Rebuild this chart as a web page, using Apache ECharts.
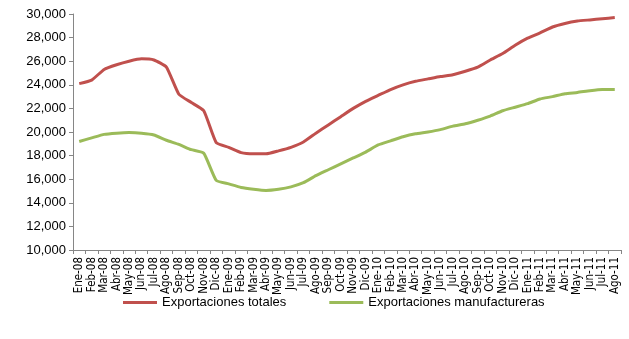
<!DOCTYPE html>
<html>
<head>
<meta charset="utf-8">
<script src="https://cdn.jsdelivr.net/npm/echarts@6/dist/echarts.min.js"></script>
<style>
    html, body { margin: 0; padding: 0; background: #fff; }
    #chart { width: 629px; height: 339px; }
</style>
</head>
<body>
<div id="chart"></div>
<script>
var months = ['Ene-08', 'Feb-08', 'Mar-08', 'Abr-08', 'May-08', 'Jun-08', 'Jul-08', 'Ago-08', 'Sep-08', 'Oct-08', 'Nov-08', 'Dic-08',
    'Ene-09', 'Feb-09', 'Mar-09', 'Abr-09', 'May-09', 'Jun-09', 'Jul-09', 'Ago-09', 'Sep-09', 'Oct-09', 'Nov-09', 'Dic-09',
    'Ene-10', 'Feb-10', 'Mar-10', 'Abr-10', 'May-10', 'Jun-10', 'Jul-10', 'Ago-10', 'Sep-10', 'Oct-10', 'Nov-10', 'Dic-10',
    'Ene-11', 'Feb-11', 'Mar-11', 'Abr-11', 'May-11', 'Jun-11', 'Jul-11', 'Ago-11'];
var totales = [24100, 24400, 25300, 25700, 26000, 26200, 26100, 25500, 23200, 22500, 21800, 19100,
    18700, 18250, 18150, 18150, 18400, 18700, 19150, 19900, 20600, 21300, 22000, 22600,
    23100, 23600, 24000, 24300, 24500, 24700, 24850, 25150, 25500, 26100, 26650, 27350,
    27950, 28400, 28900, 29200, 29400, 29500, 29600, 29700];
var manufactureras = [19200, 19500, 19800, 19900, 19950, 19900, 19750, 19300, 18950, 18500, 18200, 15900,
    15600, 15300, 15150, 15050, 15150, 15350, 15700, 16300, 16800, 17300, 17800, 18300,
    18900, 19250, 19600, 19850, 20000, 20200, 20500, 20700, 21000, 21350, 21800, 22100,
    22400, 22800, 23000, 23250, 23350, 23500, 23600, 23600];

var chart = echarts.init(document.getElementById('chart'));
var font = '"DejaVu Sans Condensed", "Liberation Sans", sans-serif';
var option = {
    animation: false,
    grid: { left: 73, right: 8, top: 14, bottom: 89 },
    legend: {
        bottom: 25,
        left: 118,
        icon: 'rect',
        itemWidth: 34,
        itemHeight: 3,
        itemGap: 43,
        textStyle: { fontFamily: '"Liberation Sans", sans-serif', fontSize: 13, color: '#000' },
        data: ['Exportaciones totales', 'Exportaciones manufactureras']
    },
    xAxis: {
        type: 'category',
        data: months,
        boundaryGap: true,
        axisLine: { lineStyle: { color: '#868686', width: 1 } },
        axisTick: { show: true, length: 4, interval: 0, lineStyle: { color: '#868686' } },
        axisLabel: { rotate: 90, interval: 0, fontFamily: font, fontSize: 11.5, color: '#000', margin: 7 }
    },
    yAxis: {
        type: 'value',
        min: 10000,
        max: 30000,
        interval: 2000,
        splitLine: { show: false },
        axisLine: { show: true, lineStyle: { color: '#868686', width: 1 } },
        axisTick: { show: true, length: 4, lineStyle: { color: '#868686' } },
        axisLabel: {
            fontFamily: '"Liberation Sans", sans-serif', fontSize: 13, color: '#000', margin: 7,
            formatter: function (v) { return v.toLocaleString('en-US'); }
        }
    },
    series: [
        {
            name: 'Exportaciones totales',
            type: 'line',
            data: totales,
            smooth: 0.15,
            symbol: 'none',
            lineStyle: { color: '#C0504D', width: 3 },
            itemStyle: { color: '#C0504D' }
        },
        {
            name: 'Exportaciones manufactureras',
            type: 'line',
            data: manufactureras,
            smooth: 0.15,
            symbol: 'none',
            lineStyle: { color: '#9BBB59', width: 3 },
            itemStyle: { color: '#9BBB59' }
        }
    ]
};
chart.setOption(option);
</script>
</body>
</html>
